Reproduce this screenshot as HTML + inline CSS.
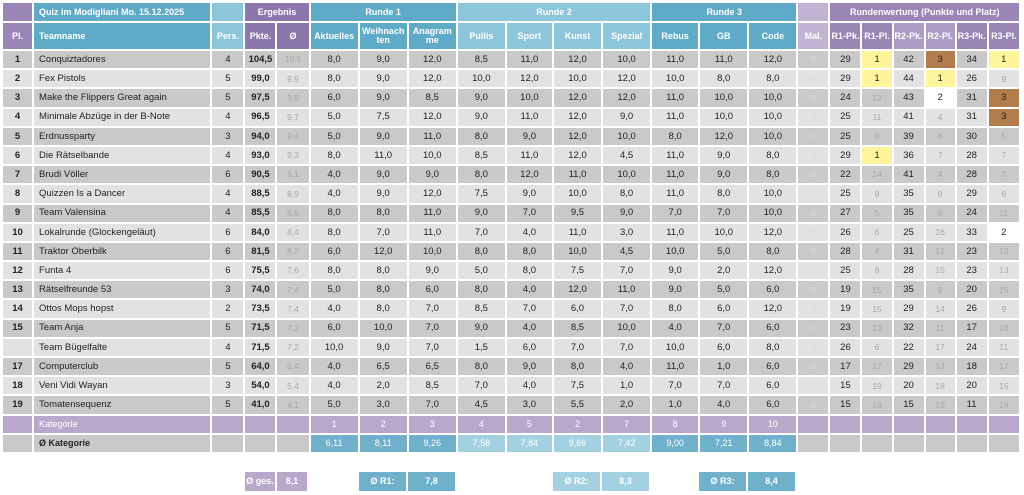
<!DOCTYPE html>
<html><head><meta charset="utf-8">
<style>
body{margin:0;width:1024px;height:495px;background:#fff;position:relative;overflow:hidden;font-family:"Liberation Sans",sans-serif;}
table{position:absolute;left:1px;top:1px;border-collapse:separate;border-spacing:2px;table-layout:fixed;width:1020px;}
td{padding:0;text-align:center;font-size:9.5px;color:#222;white-space:nowrap;overflow:hidden;line-height:1;}
tr.d td{height:17.2px;}
tr.o td{background:#c9c9c9;}
tr.e td{background:#e2e2e2;}
td.n{text-align:left;padding-left:5px;}
td.b{font-weight:bold;}
td.f{color:#a8a8a8;font-size:8.5px;}
td.z{color:#d8d8d8;font-size:8.5px;}
tr.o td.z{color:#dadada;}
td.y{background:#fdf49c !important;}
td.w{background:#fff !important;}
td.br{background:#b27c4c !important;}
tr.h td{color:#fff;font-weight:bold;font-size:9px;}
.pu{background:#9a85b7;}.pd{background:#8c77ad;}.pl{background:#c1b3d3;}.pm{background:#ad9cc6;}
.t{background:#5eaac7;}.tl{background:#8dc6da;}.tm{background:#74b7cf;}
tr.k td{background:#b8a9cc;color:#fff;height:17px;font-size:9px;}
tr.a td{background:#c9c9c9;height:17px;font-size:9px;}
tr.a td.c1{background:#6fb1cb;color:#fff;}
tr.a td.c2{background:#a4d1e1;color:#fff;}
.bx{position:absolute;top:472px;height:19px;line-height:19px;color:#fff;font-size:9px;text-align:center;font-weight:bold;}
</style></head><body>
<table>
<colgroup>
<col style="width:29px"><col style="width:176px"><col style="width:31px"><col style="width:30px"><col style="width:31px">
<col style="width:47px"><col style="width:47px"><col style="width:47px"><col style="width:47px"><col style="width:45px"><col style="width:47px"><col style="width:47px">
<col style="width:46px"><col style="width:47px"><col style="width:47px">
<col style="width:30px"><col style="width:30px"><col style="width:29px"><col style="width:30px"><col style="width:29px"><col style="width:30px"><col style="width:30px">
</colgroup>
<tr class="h" style="height:18px"><td class="pu"></td><td class="t n">Quiz im Modigliani Mo. 15.12.2025</td><td class="tl"></td><td class="pd" colspan="2">Ergebnis</td><td class="t" colspan="3">Runde 1</td><td class="tl" colspan="4">Runde 2</td><td class="t" colspan="3">Runde 3</td><td class="pl"></td><td class="pu" colspan="6">Rundenwertung (Punkte und Platz)</td></tr>
<tr class="h" style="height:26px"><td class="pu">Pl.</td><td class="t n">Teamname</td><td class="tl">Pers.</td><td class="pd">Pkte.</td><td class="pd">Ø</td><td class="t">Aktuelles</td><td class="t">Weihnach<br>ten</td><td class="t">Anagram<br>me</td><td class="tl">Pullis</td><td class="tl">Sport</td><td class="tl">Kunst</td><td class="tl">Spezial</td><td class="t">Rebus</td><td class="t">GB</td><td class="t">Code</td><td class="pl">Mal.</td><td class="pu">R1-Pk.</td><td class="pu">R1-Pl.</td><td class="pm">R2-Pk.</td><td class="pm">R2-Pl.</td><td class="pu">R3-Pk.</td><td class="pu">R3-Pl.</td></tr>
<tr class="d o"><td class="b">1</td><td class="n">Conquiztadores</td><td>4</td><td class="b">104,5</td><td class="f">10,5</td><td>8,0</td><td>9,0</td><td>12,0</td><td>8,5</td><td>11,0</td><td>12,0</td><td>10,0</td><td>11,0</td><td>11,0</td><td>12,0</td><td class="z">0</td><td>29</td><td class="y">1</td><td>42</td><td class="br">3</td><td>34</td><td class="y">1</td></tr>
<tr class="d e"><td class="b">2</td><td class="n">Fex Pistols</td><td>5</td><td class="b">99,0</td><td class="f">9,9</td><td>8,0</td><td>9,0</td><td>12,0</td><td>10,0</td><td>12,0</td><td>10,0</td><td>12,0</td><td>10,0</td><td>8,0</td><td>8,0</td><td class="z">0</td><td>29</td><td class="y">1</td><td>44</td><td class="y">1</td><td>26</td><td class="f">9</td></tr>
<tr class="d o"><td class="b">3</td><td class="n">Make the Flippers Great again</td><td>5</td><td class="b">97,5</td><td class="f">9,8</td><td>6,0</td><td>9,0</td><td>8,5</td><td>9,0</td><td>10,0</td><td>12,0</td><td>12,0</td><td>11,0</td><td>10,0</td><td>10,0</td><td class="z">0</td><td>24</td><td class="f">12</td><td>43</td><td class="w">2</td><td>31</td><td class="br">3</td></tr>
<tr class="d e"><td class="b">4</td><td class="n">Minimale Abzüge in der B-Note</td><td>4</td><td class="b">96,5</td><td class="f">9,7</td><td>5,0</td><td>7,5</td><td>12,0</td><td>9,0</td><td>11,0</td><td>12,0</td><td>9,0</td><td>11,0</td><td>10,0</td><td>10,0</td><td class="z">0</td><td>25</td><td class="f">11</td><td>41</td><td class="f">4</td><td>31</td><td class="br">3</td></tr>
<tr class="d o"><td class="b">5</td><td class="n">Erdnussparty</td><td>3</td><td class="b">94,0</td><td class="f">9,4</td><td>5,0</td><td>9,0</td><td>11,0</td><td>8,0</td><td>9,0</td><td>12,0</td><td>10,0</td><td>8,0</td><td>12,0</td><td>10,0</td><td class="z">0</td><td>25</td><td class="f">8</td><td>39</td><td class="f">6</td><td>30</td><td class="f">5</td></tr>
<tr class="d e"><td class="b">6</td><td class="n">Die Rätselbande</td><td>4</td><td class="b">93,0</td><td class="f">9,3</td><td>8,0</td><td>11,0</td><td>10,0</td><td>8,5</td><td>11,0</td><td>12,0</td><td>4,5</td><td>11,0</td><td>9,0</td><td>8,0</td><td class="z">0</td><td>29</td><td class="y">1</td><td>36</td><td class="f">7</td><td>28</td><td class="f">7</td></tr>
<tr class="d o"><td class="b">7</td><td class="n">Brudi Völler</td><td>6</td><td class="b">90,5</td><td class="f">9,1</td><td>4,0</td><td>9,0</td><td>9,0</td><td>8,0</td><td>12,0</td><td>11,0</td><td>10,0</td><td>11,0</td><td>9,0</td><td>8,0</td><td class="z">0</td><td>22</td><td class="f">14</td><td>41</td><td class="f">4</td><td>28</td><td class="f">7</td></tr>
<tr class="d e"><td class="b">8</td><td class="n">Quizzen Is a Dancer</td><td>4</td><td class="b">88,5</td><td class="f">8,9</td><td>4,0</td><td>9,0</td><td>12,0</td><td>7,5</td><td>9,0</td><td>10,0</td><td>8,0</td><td>11,0</td><td>8,0</td><td>10,0</td><td class="z">0</td><td>25</td><td class="f">8</td><td>35</td><td class="f">9</td><td>29</td><td class="f">6</td></tr>
<tr class="d o"><td class="b">9</td><td class="n">Team Valensina</td><td>4</td><td class="b">85,5</td><td class="f">8,6</td><td>8,0</td><td>8,0</td><td>11,0</td><td>9,0</td><td>7,0</td><td>9,5</td><td>9,0</td><td>7,0</td><td>7,0</td><td>10,0</td><td class="z">0</td><td>27</td><td class="f">5</td><td>35</td><td class="f">9</td><td>24</td><td class="f">11</td></tr>
<tr class="d e"><td class="b">10</td><td class="n">Lokalrunde (Glockengeläut)</td><td>6</td><td class="b">84,0</td><td class="f">8,4</td><td>8,0</td><td>7,0</td><td>11,0</td><td>7,0</td><td>4,0</td><td>11,0</td><td>3,0</td><td>11,0</td><td>10,0</td><td>12,0</td><td class="z">0</td><td>26</td><td class="f">6</td><td>25</td><td class="f">16</td><td>33</td><td class="w">2</td></tr>
<tr class="d o"><td class="b">11</td><td class="n">Traktor Oberbilk</td><td>6</td><td class="b">81,5</td><td class="f">8,2</td><td>6,0</td><td>12,0</td><td>10,0</td><td>8,0</td><td>8,0</td><td>10,0</td><td>4,5</td><td>10,0</td><td>5,0</td><td>8,0</td><td class="z">0</td><td>28</td><td class="f">4</td><td>31</td><td class="f">12</td><td>23</td><td class="f">13</td></tr>
<tr class="d e"><td class="b">12</td><td class="n">Funta 4</td><td>6</td><td class="b">75,5</td><td class="f">7,6</td><td>8,0</td><td>8,0</td><td>9,0</td><td>5,0</td><td>8,0</td><td>7,5</td><td>7,0</td><td>9,0</td><td>2,0</td><td>12,0</td><td class="z">0</td><td>25</td><td class="f">8</td><td>28</td><td class="f">15</td><td>23</td><td class="f">13</td></tr>
<tr class="d o"><td class="b">13</td><td class="n">Rätselfreunde 53</td><td>3</td><td class="b">74,0</td><td class="f">7,4</td><td>5,0</td><td>8,0</td><td>6,0</td><td>8,0</td><td>4,0</td><td>12,0</td><td>11,0</td><td>9,0</td><td>5,0</td><td>6,0</td><td class="z">0</td><td>19</td><td class="f">15</td><td>35</td><td class="f">8</td><td>20</td><td class="f">15</td></tr>
<tr class="d e"><td class="b">14</td><td class="n">Ottos Mops hopst</td><td>2</td><td class="b">73,5</td><td class="f">7,4</td><td>4,0</td><td>8,0</td><td>7,0</td><td>8,5</td><td>7,0</td><td>6,0</td><td>7,0</td><td>8,0</td><td>6,0</td><td>12,0</td><td class="z">0</td><td>19</td><td class="f">15</td><td>29</td><td class="f">14</td><td>26</td><td class="f">9</td></tr>
<tr class="d o"><td class="b">15</td><td class="n">Team Anja</td><td>5</td><td class="b">71,5</td><td class="f">7,2</td><td>6,0</td><td>10,0</td><td>7,0</td><td>9,0</td><td>4,0</td><td>8,5</td><td>10,0</td><td>4,0</td><td>7,0</td><td>6,0</td><td class="z">0</td><td>23</td><td class="f">13</td><td>32</td><td class="f">11</td><td>17</td><td class="f">18</td></tr>
<tr class="d e"><td class="b"></td><td class="n">Team Bügelfalte</td><td>4</td><td class="b">71,5</td><td class="f">7,2</td><td>10,0</td><td>9,0</td><td>7,0</td><td>1,5</td><td>6,0</td><td>7,0</td><td>7,0</td><td>10,0</td><td>6,0</td><td>8,0</td><td class="z">0</td><td>26</td><td class="f">6</td><td>22</td><td class="f">17</td><td>24</td><td class="f">11</td></tr>
<tr class="d o"><td class="b">17</td><td class="n">Computerclub</td><td>5</td><td class="b">64,0</td><td class="f">6,4</td><td>4,0</td><td>6,5</td><td>6,5</td><td>8,0</td><td>9,0</td><td>8,0</td><td>4,0</td><td>11,0</td><td>1,0</td><td>6,0</td><td class="z">0</td><td>17</td><td class="f">17</td><td>29</td><td class="f">13</td><td>18</td><td class="f">17</td></tr>
<tr class="d e"><td class="b">18</td><td class="n">Veni Vidi Wayan</td><td>3</td><td class="b">54,0</td><td class="f">5,4</td><td>4,0</td><td>2,0</td><td>8,5</td><td>7,0</td><td>4,0</td><td>7,5</td><td>1,0</td><td>7,0</td><td>7,0</td><td>6,0</td><td class="z">0</td><td>15</td><td class="f">19</td><td>20</td><td class="f">18</td><td>20</td><td class="f">15</td></tr>
<tr class="d o"><td class="b">19</td><td class="n">Tomatensequenz</td><td>5</td><td class="b">41,0</td><td class="f">4,1</td><td>5,0</td><td>3,0</td><td>7,0</td><td>4,5</td><td>3,0</td><td>5,5</td><td>2,0</td><td>1,0</td><td>4,0</td><td>6,0</td><td class="z">0</td><td>15</td><td class="f">18</td><td>15</td><td class="f">19</td><td>11</td><td class="f">19</td></tr>
<tr class="k"><td></td><td class="n">Kategorie</td><td></td><td></td><td></td><td>1</td><td>2</td><td>3</td><td>4</td><td>5</td><td>2</td><td>7</td><td>8</td><td>9</td><td>10</td><td></td><td></td><td></td><td></td><td></td><td></td><td></td></tr>
<tr class="a"><td></td><td class="n" style="font-weight:bold">Ø Kategorie</td><td></td><td></td><td></td><td class="c1">6,11</td><td class="c1">8,11</td><td class="c1">9,26</td><td class="c2">7,58</td><td class="c2">7,84</td><td class="c2">9,66</td><td class="c2">7,42</td><td class="c1">9,00</td><td class="c1">7,21</td><td class="c1">8,84</td><td></td><td></td><td></td><td></td><td></td><td></td><td></td></tr>
</table>
<div class="bx" style="left:245px;width:30px;background:#b8a9cc">Ø ges.</div>
<div class="bx" style="left:277px;width:30px;background:#b8a9cc">8,1</div>
<div class="bx" style="left:359px;width:47px;background:#6fb1cb">Ø R1:</div>
<div class="bx" style="left:408px;width:47px;background:#6fb1cb">7,8</div>
<div class="bx" style="left:553px;width:47px;background:#a4d1e1">Ø R2:</div>
<div class="bx" style="left:602px;width:47px;background:#a4d1e1">8,3</div>
<div class="bx" style="left:699px;width:47px;background:#6fb1cb">Ø R3:</div>
<div class="bx" style="left:748px;width:47px;background:#6fb1cb">8,4</div>
</body></html>
